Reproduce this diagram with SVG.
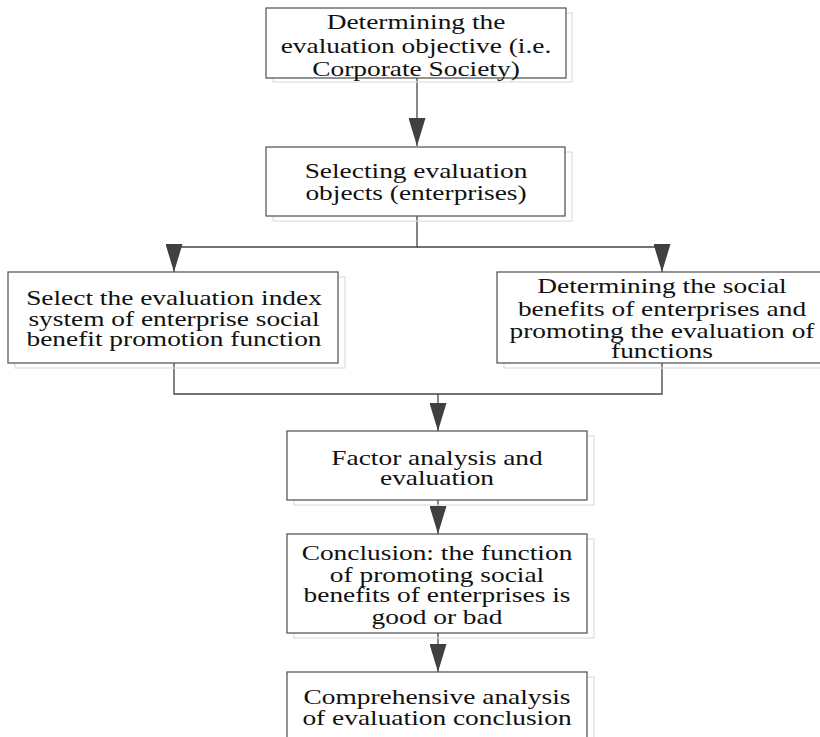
<svg xmlns="http://www.w3.org/2000/svg" width="820" height="737" viewBox="0 0 820 737">
<defs>
<style>
.box{fill:#fff;stroke:#5a5a5a;stroke-width:1.3}
.ghost{fill:none;stroke:#dedede;stroke-width:1.2}
.lbl{font-family:"Liberation Serif","Times New Roman",serif;font-size:20px;fill:#111;text-anchor:middle}
.ln{fill:none;stroke:#444;stroke-width:1.3}
</style>
<marker id="ah" viewBox="0 0 28 17" refX="28" refY="8.5" markerWidth="28" markerHeight="17" markerUnits="userSpaceOnUse" orient="auto">
<path d="M0,0 L28,8.5 L0,17 Z" fill="#404040"/>
</marker>
</defs>
<rect width="820" height="737" fill="#fff"/>

<g id="connectors">
<line class="ln" x1="417" y1="78" x2="417" y2="146" marker-end="url(#ah)"/>
<polyline class="ln" points="417,216 417,247 174,247 174,272" marker-end="url(#ah)"/>
<polyline class="ln" points="417,247 662,247 662,272" marker-end="url(#ah)"/>
<polyline class="ln" points="174,363 174,394 662,394 662,363"/>
<line class="ln" x1="438" y1="394" x2="438" y2="431" marker-end="url(#ah)"/>
<line class="ln" x1="438" y1="500" x2="438" y2="534" marker-end="url(#ah)"/>
<line class="ln" x1="438" y1="633" x2="438" y2="672" marker-end="url(#ah)"/>
</g>

<g id="n1">
<rect class="ghost" x="273" y="13" width="299" height="69"/>
<rect class="box" x="266" y="8" width="300" height="70"/>
<g transform="translate(416,0) scale(1.37,1)">
<text class="lbl" x="0" y="29">Determining the</text>
<text class="lbl" x="0" y="53">evaluation objective (i.e.</text>
<text class="lbl" x="0" y="76">Corporate Society)</text>
</g>
</g>

<g id="n2">
<rect class="ghost" x="273" y="152" width="299" height="69"/>
<rect class="box" x="266" y="147" width="299" height="69"/>
<g transform="translate(416,0) scale(1.37,1)">
<text class="lbl" x="0" y="178">Selecting evaluation</text>
<text class="lbl" x="0" y="200">objects (enterprises)</text>
</g>
</g>

<g id="n3">
<rect class="ghost" x="15" y="277" width="330" height="91"/>
<rect class="box" x="8" y="272" width="330" height="91"/>
<g transform="translate(174,0) scale(1.37,1)">
<text class="lbl" x="0" y="305">Select the evaluation index</text>
<text class="lbl" x="0" y="326">system of enterprise social</text>
<text class="lbl" x="0" y="346">benefit promotion function</text>
</g>
</g>

<g id="n4">
<rect class="ghost" x="504" y="277" width="330" height="91"/>
<rect class="box" x="497" y="272" width="330" height="91"/>
<g transform="translate(662,0) scale(1.37,1)">
<text class="lbl" x="0" y="293">Determining the social</text>
<text class="lbl" x="0" y="316">benefits of enterprises and</text>
<text class="lbl" x="0" y="338">promoting the evaluation of</text>
<text class="lbl" x="0" y="358">functions</text>
</g>
</g>

<g id="n5">
<rect class="ghost" x="294" y="436" width="300" height="69"/>
<rect class="box" x="287" y="431" width="300" height="69"/>
<g transform="translate(437,0) scale(1.37,1)">
<text class="lbl" x="0" y="465">Factor analysis and</text>
<text class="lbl" x="0" y="485">evaluation</text>
</g>
</g>

<g id="n6">
<rect class="ghost" x="294" y="539" width="300" height="99"/>
<rect class="box" x="287" y="534" width="300" height="99"/>
<g transform="translate(437,0) scale(1.37,1)">
<text class="lbl" x="0" y="560">Conclusion: the function</text>
<text class="lbl" x="0" y="582">of promoting social</text>
<text class="lbl" x="0" y="602">benefits of enterprises is</text>
<text class="lbl" x="0" y="624">good or bad</text>
</g>
</g>

<g id="n7">
<rect class="ghost" x="294" y="677" width="300" height="80"/>
<rect class="box" x="287" y="672" width="300" height="80"/>
<g transform="translate(437,0) scale(1.37,1)">
<text class="lbl" x="0" y="704">Comprehensive analysis</text>
<text class="lbl" x="0" y="725">of evaluation conclusion</text>
</g>
</g>
</svg>
